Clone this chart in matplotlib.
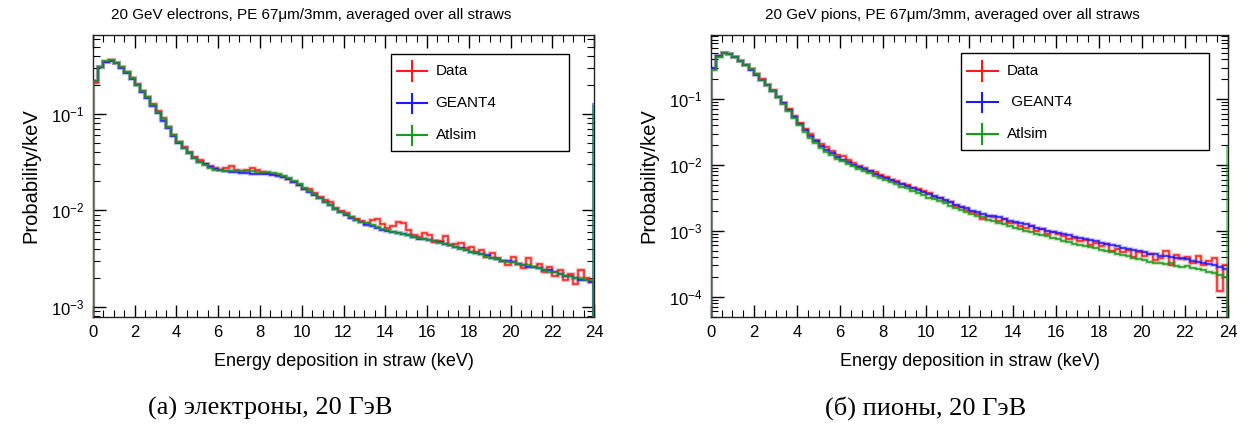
import numpy as np
import matplotlib
matplotlib.use("Agg")
import matplotlib.pyplot as plt
from matplotlib.patches import Rectangle
from matplotlib.ticker import MultipleLocator, LogLocator, NullFormatter

plt.rcParams['font.family'] = ['Liberation Sans', 'DejaVu Sans']
plt.rcParams['mathtext.fontset'] = 'custom'
plt.rcParams['mathtext.rm'] = 'Liberation Sans'

# ---- data: probability per keV, 0.25 keV bins from 0 to 24 keV ----
bin_width = 0.25
n_bins = 96

ele_data = [0.21, 0.31, 0.35, 0.36,
            0.34, 0.305, 0.27, 0.234, 0.203, 0.175, 0.150, 0.126, 0.107, 0.090, 0.074, 0.061,
            0.051, 0.045, 0.040, 0.036, 0.033, 0.030, 0.0285, 0.0272,
            0.0265, 0.0275, 0.0285, 0.0262, 0.0258, 0.0262, 0.0272, 0.0265,
            0.0252, 0.0245, 0.0240, 0.0232, 0.0222, 0.0210, 0.0198, 0.0182,
            0.0165, 0.0168, 0.0150, 0.0138, 0.0128, 0.0123, 0.0105, 0.0098,
            0.0094, 0.0086, 0.0082, 0.0078, 0.0074, 0.0079, 0.0081, 0.0072,
            0.0066, 0.0068, 0.0075, 0.0073, 0.0062, 0.0056, 0.0053, 0.0058,
            0.0055, 0.0047, 0.0048, 0.0054, 0.0044, 0.0045, 0.0046, 0.0041,
            0.0042, 0.0037, 0.0039, 0.0033, 0.0036, 0.0032, 0.0030, 0.0027,
            0.0033, 0.0028, 0.0025, 0.0032, 0.0026, 0.0028, 0.0023, 0.0026,
            0.0021, 0.0024, 0.0019, 0.0022, 0.0017, 0.0024, 0.0020, 0.0018]

ele_g4 = [0.22, 0.31, 0.35, 0.355,
          0.335, 0.30, 0.265, 0.23, 0.198, 0.17, 0.146, 0.122, 0.102, 0.085, 0.071, 0.059,
          0.050, 0.044, 0.039, 0.035, 0.032, 0.030, 0.028, 0.027,
          0.026, 0.0255, 0.0250, 0.0247, 0.0245, 0.0242, 0.0240, 0.0240,
          0.0240, 0.0238, 0.0235, 0.0228, 0.0220, 0.0210, 0.0195, 0.0182,
          0.0168, 0.0156, 0.0145, 0.0133, 0.0123, 0.0113, 0.0104, 0.0096,
          0.0090, 0.0084, 0.0079, 0.0075, 0.0071, 0.0068, 0.0066, 0.0063,
          0.0061, 0.0059, 0.0058, 0.0057, 0.0055, 0.0053, 0.0051, 0.0050,
          0.0049, 0.0048, 0.0047, 0.0045, 0.0044, 0.0042, 0.0041, 0.0039,
          0.0037, 0.0036, 0.0035, 0.0034, 0.0032, 0.0031, 0.0030, 0.0030,
          0.0029, 0.0028, 0.0027, 0.0026, 0.0026, 0.0025, 0.0024, 0.0024,
          0.0023, 0.0022, 0.0021, 0.0021, 0.0020, 0.0019, 0.0019, 0.0018]

ele_atl = [0.22, 0.31, 0.355, 0.36,
           0.34, 0.305, 0.27, 0.235, 0.20, 0.173, 0.149, 0.125, 0.105, 0.088, 0.073, 0.061,
           0.051, 0.044, 0.039, 0.035, 0.032, 0.0295, 0.0275, 0.0265,
           0.026, 0.0258, 0.0256, 0.0255, 0.0255, 0.0256, 0.0255, 0.0252,
           0.0250, 0.0248, 0.0245, 0.0238, 0.0228, 0.0215, 0.0200, 0.0186,
           0.0172, 0.0159, 0.0146, 0.0134, 0.0123, 0.0113, 0.0104, 0.0097,
           0.0091, 0.0085, 0.0080, 0.0076, 0.0073, 0.0070, 0.0067, 0.0064,
           0.0062, 0.0060, 0.0058, 0.0057, 0.0055, 0.0053, 0.0052, 0.0050,
           0.0049, 0.0048, 0.0046, 0.0045, 0.0044, 0.0042, 0.0040, 0.0039,
           0.0037, 0.0036, 0.0035, 0.0033, 0.0032, 0.0031, 0.0030, 0.0029,
           0.0029, 0.0028, 0.0027, 0.0027, 0.0026, 0.0025, 0.0024, 0.0023,
           0.0023, 0.0022, 0.0021, 0.0021, 0.0020, 0.0020, 0.0019, 0.0019]

pi_data = [0.29, 0.45, 0.50, 0.49,
           0.44, 0.385, 0.335, 0.285, 0.238, 0.20, 0.166, 0.136, 0.109, 0.088, 0.070, 0.055,
           0.043, 0.035, 0.029, 0.024, 0.0205, 0.0185, 0.0165, 0.0142,
           0.0135, 0.0118, 0.0108, 0.0098, 0.0090, 0.0082, 0.0077, 0.0070,
           0.0066, 0.0060, 0.0057, 0.0052, 0.0049, 0.0045, 0.0043, 0.0040,
           0.0037, 0.0033, 0.0031, 0.0028, 0.0027, 0.0024, 0.0023, 0.0021,
           0.0019, 0.0018, 0.0015, 0.0017, 0.0016, 0.0014, 0.0015, 0.0013,
           0.0013, 0.0012, 0.0011, 0.0012, 0.0010, 0.00105, 0.0009, 0.00095,
           0.00088, 0.00082, 0.00075, 0.00078, 0.00070, 0.00072, 0.00060, 0.00066,
           0.00058, 0.00062, 0.00050, 0.00053, 0.00047, 0.00052, 0.00040, 0.00048,
           0.00042, 0.00044, 0.00036, 0.00038, 0.00050, 0.00030, 0.00043, 0.00037,
           0.00040, 0.00032, 0.00042, 0.00030, 0.00035, 0.00038, 0.00012, 0.00030]

pi_g4 = [0.30, 0.45, 0.50, 0.48,
         0.43, 0.38, 0.33, 0.28, 0.235, 0.198, 0.165, 0.135, 0.108, 0.086, 0.068, 0.054,
         0.042, 0.034, 0.028, 0.023, 0.0195, 0.0170, 0.0150, 0.0133,
         0.0120, 0.0110, 0.0101, 0.0093, 0.0086, 0.0080, 0.0074, 0.0069,
         0.0064, 0.0060, 0.0055, 0.0051, 0.0048, 0.0045, 0.0042, 0.0039,
         0.0036, 0.0034, 0.0031, 0.0029, 0.0027, 0.0025, 0.0023, 0.0022,
         0.0020, 0.0019, 0.0018, 0.0017, 0.00165, 0.0016, 0.0015, 0.0014,
         0.00135, 0.0013, 0.00125, 0.0012, 0.00112, 0.00106, 0.0010, 0.00096,
         0.00092, 0.00089, 0.00085, 0.00081, 0.00078, 0.00075, 0.00072, 0.00069,
         0.00066, 0.00063, 0.00060, 0.00058, 0.00055, 0.00053, 0.00051, 0.00049,
         0.00047, 0.00045, 0.00044, 0.00042, 0.00041, 0.00040, 0.00039, 0.00038,
         0.00037, 0.00035, 0.00034, 0.00033, 0.00031, 0.00030, 0.00028, 0.00026]

pi_atl = [0.28, 0.44, 0.50, 0.49,
          0.44, 0.385, 0.335, 0.285, 0.238, 0.198, 0.164, 0.133, 0.106, 0.084, 0.066, 0.052,
          0.040, 0.032, 0.026, 0.0215, 0.0182, 0.0158, 0.0140, 0.0125,
          0.0113, 0.0103, 0.0095, 0.0087, 0.0081, 0.0075, 0.0069, 0.0064,
          0.0060, 0.0056, 0.0051, 0.0047, 0.0044, 0.0040, 0.0037, 0.0035,
          0.0032, 0.0030, 0.0028, 0.0026, 0.0024, 0.0022, 0.0021, 0.0019,
          0.0018, 0.0017, 0.0016, 0.00148, 0.0014, 0.00133, 0.00125, 0.00118,
          0.00112, 0.00106, 0.00100, 0.00095, 0.00090, 0.00086, 0.00082, 0.00078,
          0.00074, 0.00071, 0.00067, 0.00064, 0.00061, 0.00059, 0.00056, 0.00054,
          0.00052, 0.00049, 0.00047, 0.00045, 0.00043, 0.00041, 0.00039, 0.00037,
          0.00036, 0.00034, 0.00033, 0.00032, 0.00031, 0.00032, 0.00029, 0.00028,
          0.00029, 0.00027, 0.00026, 0.00025, 0.00024, 0.00023, 0.00021, 0.00020]

# overflow piled into the last bin (drawn as a thin spike at 24 keV)
ele_overflow = {'GEANT4': 0.13, 'Atlsim': 0.125}
pi_overflow = {'Atlsim': 0.0196}

labels = ['Data', 'GEANT4', 'Atlsim']
colors = ['#ff1a1a', '#1a1aff', '#1a9a1a']

panels = [
    dict(series=[ele_data, ele_g4, ele_atl], overflow=ele_overflow,
         title='20 GeV electrons, PE 67\u03bcm/3mm, averaged over all straws',
         ylim=(7.8e-4, 0.66), legend_labels=['Data', 'GEANT4', 'Atlsim'],
         caption='(а) электроны, 20 ГэВ',
         pos=[0.0742, 0.266, 0.3999, 0.653], title_x=0.248, caption_x=0.216,
         leg=(0.595, 0.589, 0.95, 0.933)),
    dict(series=[pi_data, pi_g4, pi_atl], overflow=pi_overflow,
         title='20 GeV pions, PE 67\u03bcm/3mm, averaged over all straws',
         ylim=(4.9e-5, 0.94), legend_labels=['Data', ' GEANT4', 'Atlsim'],
         caption='(б) пионы, 20 ГэВ',
         pos=[0.5674, 0.266, 0.4126, 0.653], title_x=0.760, caption_x=0.739,
         leg=(0.483, 0.594, 0.964, 0.935)),
]

edges = np.linspace(0, n_bins * bin_width, n_bins + 1)

fig = plt.figure(figsize=(12.53, 4.32), dpi=100)

for p in panels:
    ax = fig.add_axes(p['pos'])
    ax.set_yscale('log')
    ax.set_xlim(0, 24)
    ax.set_ylim(*p['ylim'])
    base = p['ylim'][0] * 0.5
    for vals, lab, col in zip(p['series'], labels, colors):
        ax.stairs(vals, edges, baseline=base, color=col, lw=3, alpha=0.25, zorder=2)
        ax.stairs(vals, edges, baseline=base, color=col, lw=1.1, zorder=3)
        if lab in p['overflow']:
            ax.stairs([p['overflow'][lab]], [23.92, 24.0], baseline=base,
                      color=col, lw=2.5, alpha=0.5, fill=True, zorder=3)

    # ROOT-like ticks
    ax.xaxis.set_major_locator(MultipleLocator(2))
    ax.xaxis.set_minor_locator(MultipleLocator(0.5))
    ax.yaxis.set_major_locator(LogLocator(base=10))
    ax.yaxis.set_minor_locator(LogLocator(base=10, subs=np.arange(2, 10)))
    ax.yaxis.set_minor_formatter(NullFormatter())
    ax.tick_params(which='both', direction='in', top=True, right=True, labelsize=12, pad=6)
    ax.tick_params(which='major', length=9, width=1)
    ax.tick_params(which='minor', length=5, width=0.8)
    for s in ax.spines.values():
        s.set_linewidth(1.0)
        s.set_color('#222222')

    ax.set_xlabel('Energy deposition in straw (keV)', fontsize=13, labelpad=9)
    ax.set_ylabel('Probability/keV', fontsize=14.5, labelpad=8)

    fig.text(p['title_x'], 0.965, p['title'], ha='center', va='center', fontsize=11)
    fig.text(p['caption_x'], 0.055, p['caption'], ha='center', va='center',
             fontsize=19, family=['Liberation Serif', 'DejaVu Serif'])

    # legend box, ROOT style
    x0, y0, x1, y1 = p['leg']
    ax.add_patch(Rectangle((x0, y0), x1 - x0, y1 - y0, transform=ax.transAxes,
                           fill=False, ec='black', lw=1.0, zorder=5))
    h = y1 - y0
    mx0 = x0 + 0.012
    mx1 = mx0 + 0.06
    mxc = (mx0 + mx1) / 2
    for k, (lab, col) in enumerate(zip(p['legend_labels'], colors)):
        yy = y1 - h * (0.18 + 0.33 * k)
        ax.plot([mx0, mx1], [yy, yy], color=col, lw=1.5, transform=ax.transAxes, zorder=6)
        ax.plot([mxc, mxc], [yy - 0.035, yy + 0.035], color=col, lw=1.5,
                transform=ax.transAxes, zorder=6)
        ax.text(mx1 + 0.017, yy, lab, transform=ax.transAxes, va='center',
                ha='left', fontsize=11, zorder=6)

fig.savefig('out.png', dpi=100)
